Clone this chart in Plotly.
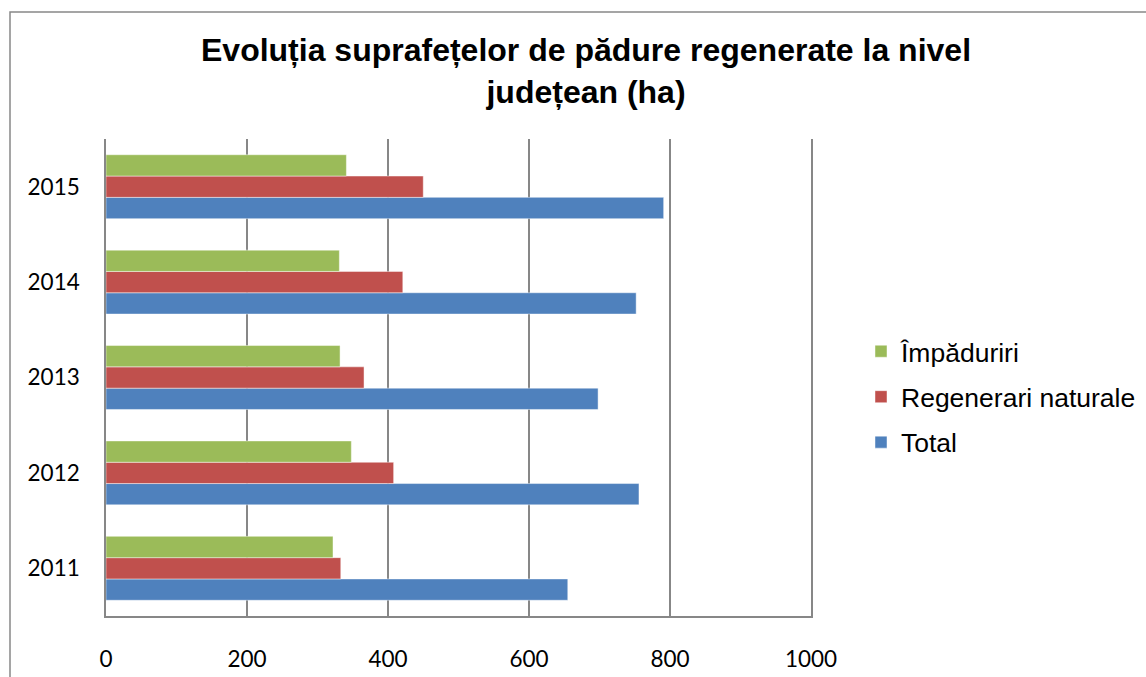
import plotly.graph_objects as go

# Regenerated forest areas per year (ha)
years = ["2011", "2012", "2013", "2014", "2015"]
total = [655, 756, 698, 752, 791]
regenerari_naturale = [333, 408, 366, 421, 450]
impaduriri = [322, 348, 332, 331, 341]

x_ticks = [0, 200, 400, 600, 800, 1000]

W, H = 1146, 677
PLOT_L, PLOT_R, PLOT_T, PLOT_B = 106, 811, 139, 616
pw, ph = PLOT_R - PLOT_L, PLOT_B - PLOT_T


def px_x(p):
    return (p - PLOT_L) / pw


def px_y(p):
    return (PLOT_B - p) / ph


fig = go.Figure()
# (name, values, colour, legend rank) - bars stack bottom-up in trace order,
# legend lists them top-down by rank
series = [
    ("Total", total, "#4F81BD", 3),
    ("Regenerari naturale", regenerari_naturale, "#C0504D", 2),
    ("Împăduriri", impaduriri, "#9BBB59", 1),
]
for name, vals, color, rank in series:
    fig.add_trace(go.Bar(
        y=years, x=vals, name=name, orientation="h",
        legendgroup=name, legendrank=rank,
        marker=dict(color=color, line=dict(color="rgba(255,255,255,0.45)", width=1)),
    ))

grid = "#878787"
tick_font = dict(family="Lato", size=22.5, color="#000000")

fig.update_layout(
    width=W, height=H,
    margin=dict(l=PLOT_L, r=W - PLOT_R, t=PLOT_T, b=H - PLOT_B, pad=0,
                autoexpand=False),
    paper_bgcolor="white", plot_bgcolor="white",
    barmode="group", bargap=0.33, bargroupgap=0,
    title=dict(
        text="Evoluția suprafețelor de pădure regenerate la nivel<br>județean (ha)",
        font=dict(family="Liberation Sans", size=32, color="#000000", weight="bold"),
        x=586 / W, xanchor="center", xref="container",
        y=1 - 61 / H, yanchor="top", yref="container",
    ),
    xaxis=dict(
        range=[0, 1000], tickvals=x_ticks, ticktext=[str(v) for v in x_ticks],
        showgrid=True, gridcolor=grid, gridwidth=1.5,
        zeroline=False, showline=True, linecolor=grid, linewidth=2,
        ticks="", tickfont=tick_font, ticklabelstandoff=22,
    ),
    yaxis=dict(
        type="category", categoryorder="array", categoryarray=years,
        showgrid=False, zeroline=False,
        showline=True, linecolor=grid, linewidth=1.5, mirror=True,
        ticks="", tickfont=tick_font, ticklabelstandoff=20,
    ),
    legend=dict(
        x=px_x(861), xanchor="left", y=px_y(397), yanchor="middle",
        traceorder="grouped", tracegroupgap=8,
        font=dict(family="Liberation Sans", size=26.5, color="#000000"),
        bgcolor="rgba(0,0,0,0)",
    ),
    shapes=[
        dict(type="rect", xref="paper", yref="paper",
             x0=px_x(10), x1=px_x(W + 10), y0=px_y(H + 10), y1=px_y(12),
             line=dict(color="#888888", width=1.5), fillcolor="rgba(0,0,0,0)",
             layer="below"),
    ],
)

fig.write_html("out.html")
